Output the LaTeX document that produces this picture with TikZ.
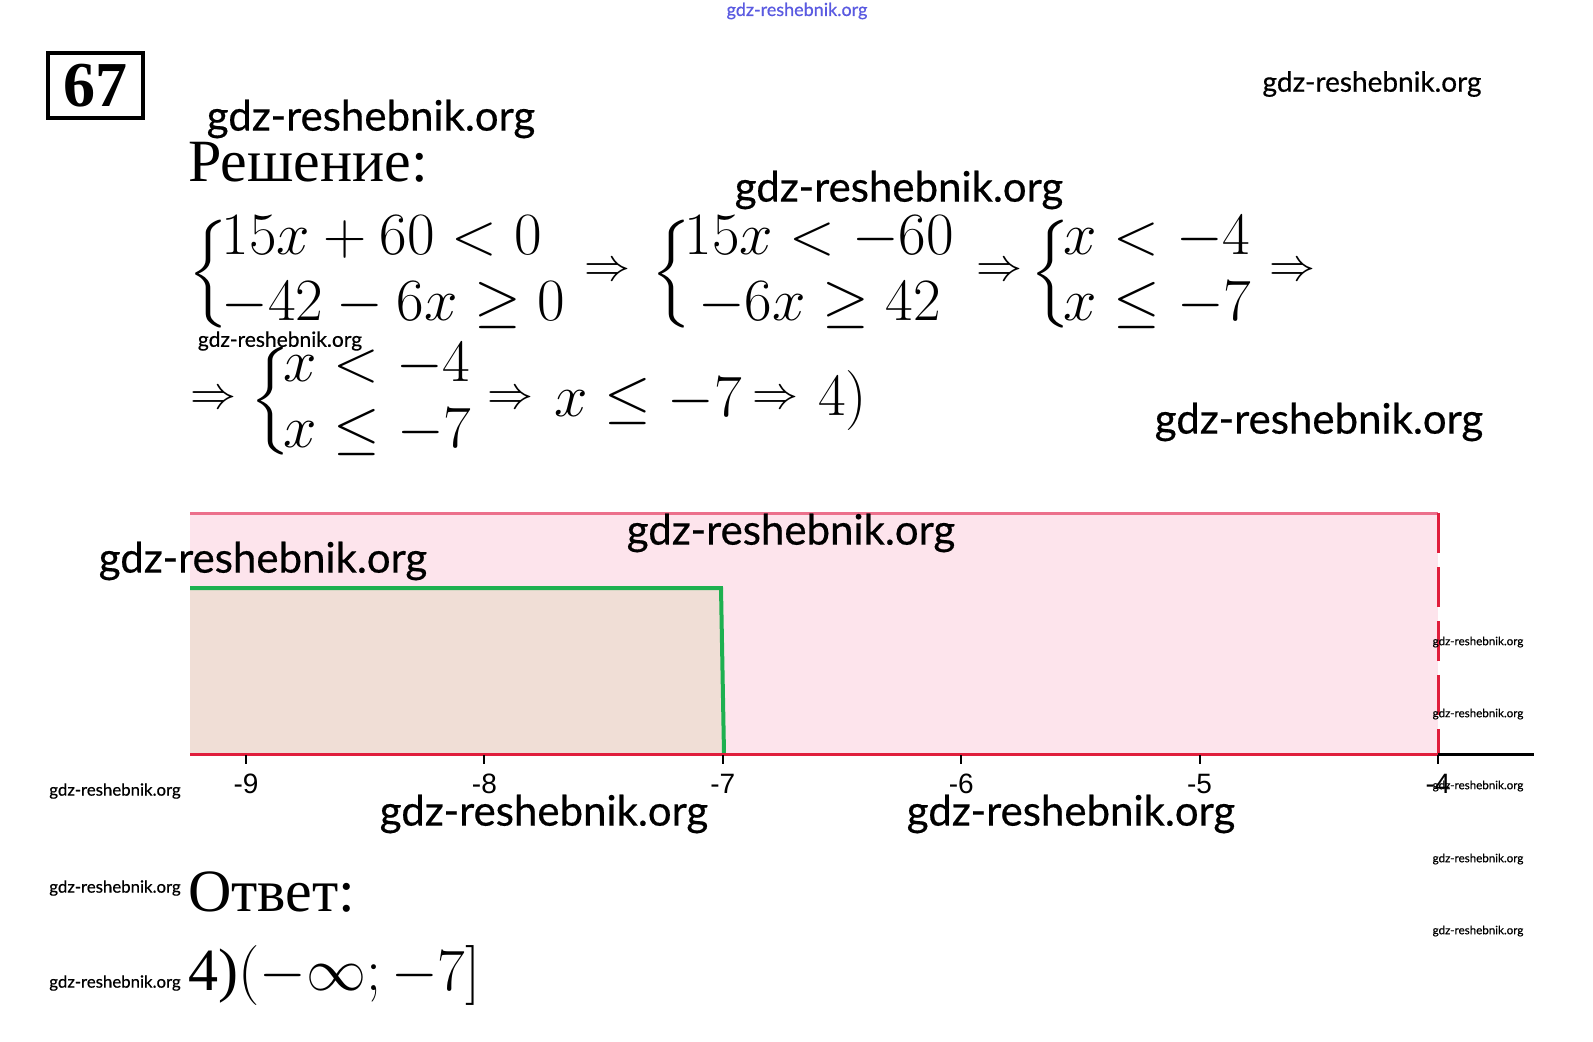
\RequirePackage{fix-cm}
\documentclass[tikz,border=0pt]{standalone}
\usepackage{amsmath}
\usepackage{amssymb}
\usepackage{xcolor}
\usepackage{fontspec}
\setmainfont{Liberation Serif}
\newfontfamily\wmfont[FakeBold=0.5]{Lato}
\newfontfamily\axfont{Liberation Sans}
\definecolor{bandpink}{RGB}{253,228,236}
\definecolor{bandedge}{RGB}{236,112,140}
\definecolor{axisred}{RGB}{224,30,60}
\definecolor{solgreen}{RGB}{30,176,80}
\definecolor{solfill}{RGB}{240,222,214}
\definecolor{wmblue}{RGB}{90,90,225}
\delimiterfactor=750
\delimitershortfall=20pt
\newcommand{\sysbrace}[2]{\left\{\mkern-2mu\begin{array}{@{}#1@{}}#2\end{array}\right.}

\begin{document}
\begin{tikzpicture}[x=0.5pt,y=-0.5pt]
\tikzstyle{every node}+=[inner sep=0pt]
\tikzstyle{wmbig}=[font=\wmfont\fontsize{21}{21}\selectfont]
\tikzstyle{wmmid}=[font=\wmfont\fontsize{14}{14}\selectfont]
\tikzstyle{wmsmall}=[font=\wmfont\fontsize{5.8}{6}\selectfont]
\tikzstyle{wmleft}=[font=\wmfont\fontsize{8.4}{9}\selectfont]
\tikzstyle{eq}=[anchor=west,font=\fontsize{30}{33}\selectfont]
\tikzstyle{impl}=[font=\fontsize{23}{23}\selectfont]
\tikzstyle{heading}=[anchor=base west,font=\fontsize{30}{30}\selectfont]
\tikzstyle{ticklabel}=[font=\axfont\fontsize{14}{14}\selectfont]
\useasboundingbox (0,0) rectangle (1593,1042);
\fill [white] (0,0) rectangle (1593,1042);
\draw [black,line width=2pt] (48,53) rectangle (143,118);
\node [font=\fontsize{32}{32}\selectfont\bfseries] (num) at (95.5,86) {67};
\node [heading] (sol) at (188,182) {Решение:};
\node [eq] (sys1) at (188,274) {$\sysbrace{l}{15x+60<0\\-42-6x\geq 0}$};
\node [impl] (imp1) at (607,272) {$\Rightarrow$};
\node [eq] (sys2) at (651,274) {$\sysbrace{c}{15x<-60\\-6x\geq 42}$};
\node [impl] (imp2) at (999,272) {$\Rightarrow$};
\node [eq] (sys3) at (1030,274) {$\sysbrace{l}{x<-4\\x\leq -7}$};
\node [impl] (imp3) at (1292,272) {$\Rightarrow$};
\node [impl] (imp4) at (213,400) {$\Rightarrow$};
\node [eq] (sys4) at (250,401) {$\sysbrace{l}{x<-4\\x\leq -7}$};
\node [impl] (imp5) at (510,400) {$\Rightarrow$};
\node [eq] (res) at (554,401) {$x\leq -7$};
\node [impl] (imp6) at (775,400) {$\Rightarrow$};
\node [eq] (choice) at (818,401) {$4)$};
\fill [bandpink] (190,754) rectangle (1438,513);
\fill [solfill] (190,588) -- (721,588) -- (724,754) -- (190,754) -- cycle;
\draw [bandedge,line width=1.5pt] (190,513) -- (1438,513);
\draw [axisred,line width=1.5pt,dash pattern=on 20pt off 7pt] (1438,513) -- (1438,754);
\draw [solgreen,line width=2pt] (190,588) -- (721,588) -- (724,754);
\draw [axisred,line width=1.5pt] (190,754) -- (1438,754);
\draw [black,line width=1.5pt] (1438,754) -- (1534,754);
\foreach \k/\lab in {0/-9,1/-8,2/-7,3/-6,4/-5,5/-4} {
  \draw [black,line width=1pt] (246+238.4*\k,755) -- ++(0,9);
  \node [ticklabel] (tick\k) at (246+238.4*\k,784) {\lab};
}
\node [heading] (ans) at (188,911) {Ответ:};
\node [heading] (ansval) at (188,990) {4)$(-\infty;-7]$};
\node [font=\wmfont\fontsize{9}{9}\selectfont,text=wmblue] (wm0) at (797,11) {gdz-reshebnik.org};
\node [wmmid] (wm1) at (1372,84) {gdz-reshebnik.org};
\node [wmbig] (wm2) at (371,119) {gdz-reshebnik.org};
\node [wmbig] (wm3) at (899,190) {gdz-reshebnik.org};
\node [font=\wmfont\fontsize{10.5}{11}\selectfont] (wm4) at (280,341) {gdz-reshebnik.org};
\node [wmbig] (wm5) at (1319,422) {gdz-reshebnik.org};
\node [wmbig] (wm6) at (791,533) {gdz-reshebnik.org};
\node [wmbig] (wm7) at (263,561) {gdz-reshebnik.org};
\node [wmbig] (wm8) at (544,814) {gdz-reshebnik.org};
\node [wmbig] (wm9) at (1071,814) {gdz-reshebnik.org};
\foreach \y [count=\i] in {642,714,786,859,931}
  \node [wmsmall] (wmr\i) at (1478,\y) {gdz-reshebnik.org};
\foreach \y [count=\i] in {791,888,983}
  \node [wmleft] (wml\i) at (115,\y) {gdz-reshebnik.org};
\end{tikzpicture}
\end{document}
